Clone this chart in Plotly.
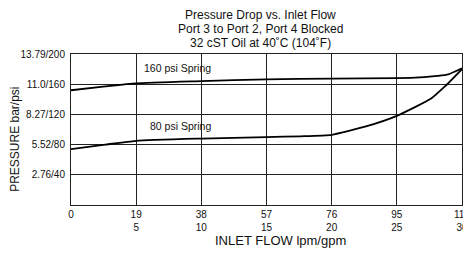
import plotly.graph_objects as go

# Flow (lpm) and pressure (psi)
flow_160 = [0, 10, 19, 38, 57, 76, 95, 103, 107, 110, 114]
psi_160 = [152, 157, 161, 164, 166.5, 167.5, 168, 169.5, 171, 173, 181]

flow_80 = [0, 10, 19, 38, 57, 67, 76, 86, 95, 105, 109, 114]
psi_80 = [74, 80, 85, 88, 90, 91, 93, 104, 118, 141, 157, 180]

x_tickvals = [0, 19, 38, 57, 76, 95, 114]
x_ticktext = ["0", "19<br>5", "38<br>10", "57<br>15", "76<br>20", "95<br>25", "114<br>30"]
y_tickvals = [40, 80, 120, 160, 200]
y_ticktext = ["2.76/40", "5.52/80", "8.27/120", "11.0/160", "13.79/200"]

title_lines = ["Pressure Drop vs. Inlet Flow",
               "Port 3 to Port 2, Port 4 Blocked",
               "32 cST Oil at 40˚C (104˚F)"]
x_title = "INLET FLOW lpm/gpm"
y_title = "PRESSURE bar/psi"

series_labels = ["160 psi Spring", "80 psi Spring"]
label_pos_x = [31, 32]
label_pos_y = [182, 105]

FONT = "Liberation Sans, Arial, sans-serif"
INK = "#111"

fig = go.Figure()
fig.add_trace(go.Scatter(x=flow_160, y=psi_160, mode="lines",
                         line=dict(color="black", width=1.8, shape="spline", smoothing=0.5),
                         showlegend=False, hoverinfo="skip", cliponaxis=False))
fig.add_trace(go.Scatter(x=flow_80, y=psi_80, mode="lines",
                         line=dict(color="black", width=1.8, shape="spline", smoothing=0.5),
                         showlegend=False, hoverinfo="skip", cliponaxis=False))

for t, xx, yy in zip(series_labels, label_pos_x, label_pos_y):
    fig.add_annotation(x=xx, y=yy, text=t, showarrow=False,
                       font=dict(family=FONT, size=10.5, color=INK))

# title lines, placed in paper coordinates above the plot
for t, yy in zip(title_lines, [1.2578, 1.1652, 1.076]):
    fig.add_annotation(xref="paper", yref="paper", x=0.485, y=yy, text=t,
                       showarrow=False, xanchor="center", yanchor="middle",
                       font=dict(family=FONT, size=12, color=INK))

fig.add_annotation(xref="paper", yref="paper", x=0.535, y=-0.236, text=x_title,
                   showarrow=False, xanchor="center", yanchor="middle",
                   font=dict(family=FONT, size=13, color=INK))
fig.add_annotation(xref="paper", yref="paper", x=-0.1433, y=0.438, text=y_title,
                   showarrow=False, xanchor="center", yanchor="middle", textangle=-90,
                   font=dict(family=FONT, size=12, color=INK))

# The page body has an 8px margin, so the figure is sized 8px smaller
fig.update_layout(
    width=463, height=245,
    margin=dict(l=63, r=9, t=46, b=48, autoexpand=False),
    paper_bgcolor="white", plot_bgcolor="white",
    font=dict(family=FONT, color=INK),
    xaxis=dict(range=[0, 114], tickvals=x_tickvals, ticktext=x_ticktext,
               showgrid=True, gridcolor="#222", gridwidth=1,
               showline=True, linecolor="#222", linewidth=1, mirror=True,
               zeroline=False, ticks="", tickfont=dict(family=FONT, size=10, color=INK),
               automargin=False, fixedrange=True),
    yaxis=dict(range=[0, 200], tickvals=y_tickvals, ticktext=y_ticktext,
               showgrid=True, gridcolor="#222", gridwidth=1,
               showline=True, linecolor="#222", linewidth=1, mirror=True,
               zeroline=False, ticks="", tickfont=dict(family=FONT, size=10, color=INK),
               automargin=False, ticklabelstandoff=3, fixedrange=True),
)

fig.write_html("out.html")
